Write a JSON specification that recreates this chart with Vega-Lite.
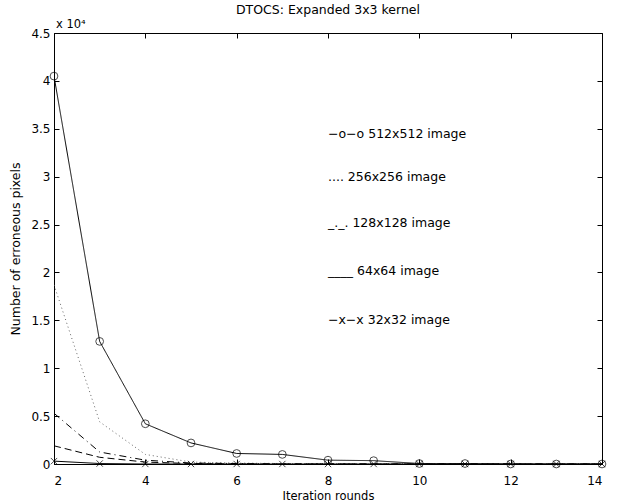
{
  "$schema": "https://vega.github.io/schema/vega-lite/v6.json",
  "autosize": "none",
  "width": 548,
  "height": 431,
  "padding": {"left": 54, "top": 33, "right": 16, "bottom": 39},
  "background": "white",
  "title": {"text": "DTOCS: Expanded 3x3 kernel", "fontSize": 12.5, "fontWeight": "normal", "font": "DejaVu Sans", "color": "black", "offset": 3},
  "config": {
    "view": {"stroke": "black", "strokeWidth": 1},
    "font": "DejaVu Sans",
    "axis": {"domainColor": "black", "tickColor": "black", "labelColor": "black", "titleColor": "black", "labelFont": "DejaVu Sans", "titleFont": "DejaVu Sans", "labelFontSize": 12, "titleFontSize": 12.5, "titleFontWeight": "normal", "grid": false, "tickSize": -5}
  },
  "datasets": {
    "series": [
      {"series": "512", "x": 2, "y": 40500}, {"series": "512", "x": 3, "y": 12800}, {"series": "512", "x": 4, "y": 4200}, {"series": "512", "x": 5, "y": 2200}, {"series": "512", "x": 6, "y": 1100}, {"series": "512", "x": 7, "y": 1000}, {"series": "512", "x": 8, "y": 400}, {"series": "512", "x": 9, "y": 350}, {"series": "512", "x": 10, "y": 50}, {"series": "512", "x": 11, "y": 50}, {"series": "512", "x": 12, "y": 0}, {"series": "512", "x": 13, "y": 0}, {"series": "512", "x": 14, "y": 0},
      {"series": "256", "x": 2, "y": 18700}, {"series": "256", "x": 3, "y": 4400}, {"series": "256", "x": 4, "y": 1000}, {"series": "256", "x": 5, "y": 200}, {"series": "256", "x": 6, "y": 100}, {"series": "256", "x": 7, "y": 50}, {"series": "256", "x": 8, "y": 50}, {"series": "256", "x": 9, "y": 0}, {"series": "256", "x": 10, "y": 0}, {"series": "256", "x": 11, "y": 0}, {"series": "256", "x": 12, "y": 0}, {"series": "256", "x": 13, "y": 0}, {"series": "256", "x": 14, "y": 0},
      {"series": "128", "x": 2, "y": 5300}, {"series": "128", "x": 3, "y": 1250}, {"series": "128", "x": 4, "y": 400}, {"series": "128", "x": 5, "y": 100}, {"series": "128", "x": 6, "y": 50}, {"series": "128", "x": 7, "y": 0}, {"series": "128", "x": 8, "y": 0}, {"series": "128", "x": 9, "y": 0}, {"series": "128", "x": 10, "y": 0}, {"series": "128", "x": 11, "y": 0}, {"series": "128", "x": 12, "y": 0}, {"series": "128", "x": 13, "y": 0}, {"series": "128", "x": 14, "y": 0},
      {"series": "64", "x": 2, "y": 1900}, {"series": "64", "x": 3, "y": 700}, {"series": "64", "x": 4, "y": 200}, {"series": "64", "x": 5, "y": 50}, {"series": "64", "x": 6, "y": 0}, {"series": "64", "x": 7, "y": 0}, {"series": "64", "x": 8, "y": 0}, {"series": "64", "x": 9, "y": 0}, {"series": "64", "x": 10, "y": 0}, {"series": "64", "x": 11, "y": 0}, {"series": "64", "x": 12, "y": 0}, {"series": "64", "x": 13, "y": 0}, {"series": "64", "x": 14, "y": 0},
      {"series": "32", "x": 2, "y": 300}, {"series": "32", "x": 3, "y": 50}, {"series": "32", "x": 4, "y": 0}, {"series": "32", "x": 5, "y": 0}, {"series": "32", "x": 6, "y": 0}, {"series": "32", "x": 7, "y": 0}, {"series": "32", "x": 8, "y": 0}, {"series": "32", "x": 9, "y": 0}, {"series": "32", "x": 10, "y": 0}, {"series": "32", "x": 11, "y": 0}, {"series": "32", "x": 12, "y": 0}, {"series": "32", "x": 13, "y": 0}, {"series": "32", "x": 14, "y": 0}
    ],
    "labels": [
      {"x": 8, "y": 34500, "label": "−o−o 512x512 image"},
      {"x": 8, "y": 30000, "label": ".... 256x256 image"},
      {"x": 8, "y": 25200, "label": "_._. 128x128 image"},
      {"x": 8, "y": 20200, "label": "____  64x64 image"},
      {"x": 8, "y": 15000, "label": "−x−x  32x32 image"}
    ]
  },
  "resolve": {"axis": {"x": "independent", "y": "independent"}},
  "layer": [
    {
      "data": {"name": "series"},
      "mark": {"type": "line", "strokeWidth": 1, "clip": true},
      "encoding": {
        "x": {"field": "x", "type": "quantitative", "scale": {"domain": [2, 14], "nice": false}, "axis": {"orient": "bottom", "values": [2, 4, 6, 8, 10, 12, 14], "title": "Iteration rounds", "labelPadding": 16, "titlePadding": 4, "titleFontSize": 11.5}},
        "y": {"field": "y", "type": "quantitative", "scale": {"domain": [0, 45000], "nice": false}, "axis": {"orient": "left", "values": [0, 5000, 10000, 15000, 20000, 25000, 30000, 35000, 40000, 45000], "labelExpr": "format(datum.value / 10000, '')", "title": "Number of erroneous pixels", "labelPadding": 9, "titlePadding": 8}},
        "color": {"field": "series", "type": "nominal", "scale": {"domain": ["512", "256", "128", "64", "32"], "range": ["black", "#666666", "black", "black", "black"]}, "legend": null},
        "strokeDash": {"field": "series", "type": "nominal", "scale": {"domain": ["512", "256", "128", "64", "32"], "range": [[1, 0], [1, 3], [7, 4, 1, 4], [7, 4], [1, 0]]}, "legend": null}
      }
    },
    {
      "data": {"name": "series"},
      "transform": [{"filter": "datum.series === '512'"}],
      "mark": {"type": "point", "shape": "circle", "filled": false, "size": 60, "stroke": "black", "strokeWidth": 1},
      "encoding": {
        "x": {"field": "x", "type": "quantitative", "axis": null},
        "y": {"field": "y", "type": "quantitative", "axis": null}
      }
    },
    {
      "data": {"name": "series"},
      "transform": [{"filter": "datum.series === '32'"}],
      "mark": {"type": "point", "shape": "M-1,-1L1,1M1,-1L-1,1", "filled": false, "size": 40, "stroke": "black", "strokeWidth": 1},
      "encoding": {
        "x": {"field": "x", "type": "quantitative", "axis": null},
        "y": {"field": "y", "type": "quantitative", "axis": null}
      }
    },
    {
      "data": {"name": "labels"},
      "mark": {"type": "text", "align": "left", "baseline": "middle", "fontSize": 12.5, "font": "DejaVu Sans", "color": "black"},
      "encoding": {
        "x": {"field": "x", "type": "quantitative", "axis": null},
        "y": {"field": "y", "type": "quantitative", "axis": null},
        "text": {"field": "label"}
      }
    },
    {
      "data": {"values": [{"x": 2, "y": 45000}]},
      "mark": {"type": "text", "align": "left", "baseline": "bottom", "fontSize": 11.5, "font": "DejaVu Sans", "color": "black", "dx": 2, "dy": -3, "text": "x 10⁴"},
      "encoding": {
        "x": {"field": "x", "type": "quantitative", "axis": {"orient": "top", "values": [2, 4, 6, 8, 10, 12, 14], "labels": false, "title": null, "domain": false}},
        "y": {"field": "y", "type": "quantitative", "axis": {"orient": "right", "values": [0, 5000, 10000, 15000, 20000, 25000, 30000, 35000, 40000, 45000], "labels": false, "title": null, "domain": false}}
      }
    }
  ]
}
